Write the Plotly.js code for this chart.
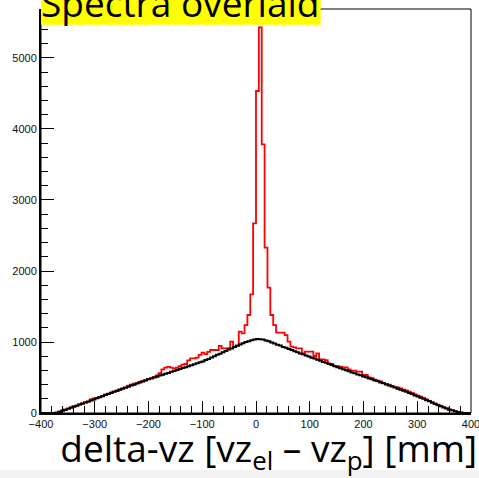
<!DOCTYPE html>
<html>
<head>
<meta charset="utf-8">
<script src="https://cdn.plot.ly/plotly-3.0.1.min.js"></script>
<style>
html,body{margin:0;padding:0;background:#ffffff;}
#plot{width:479px;height:478px;}
</style>
</head>
<body>
<div id="plot"></div>
<script>
// Histogram binning (150 bins from -400 to 400 mm)
const xMin = -400;
const xMax = 400;

// Black histogram counts (one per bin)
const blackCounts = [
  0,0,0,0,0, 4,15,31,43,59,
  73,89,101,118,130, 147,160,176,189,206,
  221,237,254,269,282, 298,311,328,341,357,
  369,386,399,415,429, 445,457,475,486,501,
  512,527,539,554,565, 581,591,607,619,634,
  645,660,671,687,699, 715,727,746,762,783,
  799,819,835,856,872, 893,909,931,947,966,
  981,999,1011,1026,1035, 1043,1039,1035,1021,1009,
  993,979,961,949,931, 918,901,887,869,856,
  839,826,809,796,779, 766,749,736,719,706,
  689,676,659,646,629, 617,601,589,572,559,
  543,531,515,503,487, 475,459,446,430,418,
  401,389,372,359,342, 329,312,298,280,266,
  247,233,214,199,180, 164,144,128,109,94,
  76,63,47,37,23, 15,6,1,0,0
];

// Red histogram counts (one per bin)
const redCounts = [
  0,0,0,0,0, 6,22,36,52,63,
  80,96,104,122,138, 150,165,192,205,214,
  228,242,262,271,290, 300,318,331,348,362,
  384,400,412,420,437, 451,463,482,491,506,
  530,560,615,640,650, 640,625,640,660,680,
  690,740,770,770,780, 820,850,830,860,887,
  887,887,944,911,911, 915,1004,934,950,1145,
  1122,1239,1380,1672,2672, 4535,5432,3784,2328,1765,
  1380,1239,1131,1131,1131, 1098,1004,934,925,911,
  911,841,864,864,864, 803,841,756,756,746,
  700,690,665,660,652, 643,643,615,596,596,
  582,582,535,535,503, 490,470,455,445,425,
  410,398,380,365,362, 345,330,318,300,282,
  262,245,230,212,192, 172,152,135,116,99,
  82,66,52,38,26, 14,6,1,0,0
];

const xTickVals = [-400,-300,-200,-100,0,100,200,300,400];
const yTickVals = [0,1000,2000,3000,4000,5000];

function stairs(counts) {
  const w = (xMax - xMin) / counts.length;
  const x = [], y = [];
  for (let i = 0; i < counts.length; i++) {
    x.push(xMin + i * w);
    y.push(counts[i]);
  }
  x.push(xMax);
  y.push(counts[counts.length - 1]);
  return {x, y};
}

const r = stairs(redCounts);
const b = stairs(blackCounts);

const traces = [
  {type:'scatter', mode:'lines', x:r.x, y:r.y, line:{shape:'hv', color:'#ff0000', width:1.8}, name:'red', hoverinfo:'skip'},
  {type:'scatter', mode:'lines', x:b.x, y:b.y, line:{shape:'hv', color:'#000000', width:2}, name:'black', hoverinfo:'skip'}
];

const tickFont = {family:'Liberation Sans, Arial, sans-serif', size:11, color:'#111'};

const layout = {
  width:479, height:478,
  margin:{l:41, r:8, t:9, b:65, pad:0},
  paper_bgcolor:'#ffffff',
  plot_bgcolor:'#ffffff',
  showlegend:false,
  title:{
    text:'Spectra overlaid',
    font:{family:'Open Sans, sans-serif', size:37, color:'#000'},
    xref:'container', yref:'container',
    x:41/479, xanchor:'left',
    y:1 - 17/478, yanchor:'bottom',
    pad:{t:0,b:0,l:0,r:0}
  },
  xaxis:{
    range:[xMin, xMax],
    tickmode:'array', tickvals:xTickVals,
    ticks:'inside', ticklen:12, tickwidth:1, tickcolor:'#000',
    showline:true, linewidth:2, linecolor:'#000', mirror:false,
    showgrid:false, zeroline:false,
    ticklabeloverflow:'allow',
    minor:{ticks:'inside', ticklen:7, tickwidth:1, tickcolor:'#000', dtick:20, tick0:0, showgrid:false},
    tickfont:tickFont,
    title:{text:'\u200b\u00a0\u00a0\u2006delta-vz [vz<sub>el</sub> – vz<sub>p</sub>] [mm]', font:{family:'Open Sans, sans-serif', size:37, color:'#000'}, standoff:7}
  },
  yaxis:{
    range:[0, 5690],
    tickmode:'array', tickvals:yTickVals,
    ticks:'inside', ticklen:13, tickwidth:1, tickcolor:'#000',
    showline:true, linewidth:2, linecolor:'#000', mirror:false,
    showgrid:false, zeroline:false,
    minor:{ticks:'inside', ticklen:7, tickwidth:1, tickcolor:'#000', dtick:200, tick0:0, showgrid:false},
    tickfont:tickFont
  },
  shapes:[
    {type:'rect', xref:'paper', yref:'paper', x0:0, x1:1, y0:0, y1:1, line:{color:'#000', width:1}, fillcolor:'rgba(0,0,0,0)', layer:'above'},
    {type:'rect', xref:'paper', yref:'paper', x0:0, x1:(320.7-41)/430, y0:(413-24.7)/404, y1:1.05, line:{width:0}, fillcolor:'#ffff00', layer:'above'},
    {type:'rect', xref:'paper', yref:'paper', x0:-41/430, x1:1+8/430, y0:(413-478)/404, y1:(413-470)/404, line:{width:0}, fillcolor:'#f3f3f3', layer:'below'}
  ]
};

Plotly.newPlot('plot', traces, layout, {displayModeBar:false, staticPlot:true});
</script>
</body>
</html>
